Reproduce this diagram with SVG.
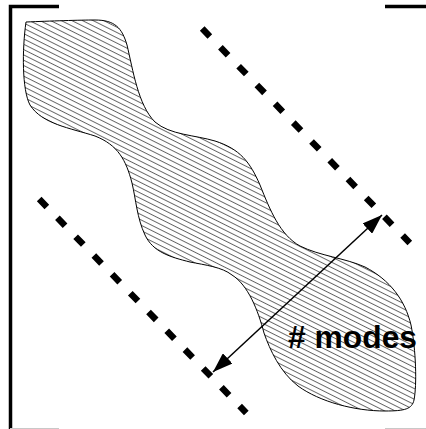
<svg xmlns="http://www.w3.org/2000/svg" width="426" height="429" viewBox="0 0 426 429">
  <style>
    .frame { stroke: #000; stroke-width: 3.5; fill: none; }
    .frameb { stroke: #c8c8c8; stroke-width: 1; fill: none; }
    .dash { stroke: #000; stroke-width: 6.5; stroke-dasharray: 11 15.2; fill: none; }
    .outline { stroke: #000; stroke-width: 1; fill: url(#hatch); }
    .arrow { stroke: #000; stroke-width: 1.5; fill: none; }
    .label { font-family: "Liberation Sans", Arial, sans-serif; font-weight: bold; font-size: 31px; fill: #000; }
  </style>
  <defs>
    <pattern id="hatch" width="10" height="4.75" patternUnits="userSpaceOnUse" patternTransform="rotate(26.6)">
      <line x1="0" y1="0.5" x2="10" y2="0.5" stroke="#555" stroke-width="0.9"/>
    </pattern>
    <marker id="ah" markerWidth="22" markerHeight="14" refX="20" refY="7" orient="auto-start-reverse" markerUnits="userSpaceOnUse">
      <path d="M0,0 L20,7 L0,14 Z" fill="#000"/>
    </marker>
  </defs>
  <rect width="426" height="429" fill="#fff"/>
  <g id="frame">
    <path class="frame" d="M59,6.5 H10.5 V429"/>
    <path class="frame" d="M385,6.5 H426"/>
    <path class="frameb" d="M10,428.5 H59 M385,428.5 H426"/>
  </g>
  <g id="region">
    <path class="outline" d="M26,22 C50,21 80,20 95,20 C115,20 122,28 127,45 C133,70 138,105 155,122 C170,135 195,135 215,141 C240,149 250,162 260,185 C270,210 280,235 300,246 C320,256 345,258 365,267 C390,280 405,300 411,325 C416,350 417,385 414,400 C412,409 405,411 385,411 C355,411 320,402 298,386 C280,372 270,350 264,333 C258,310 248,285 232,275 C222,267 205,265 190,262 C170,257 153,252 145,235 C137,218 136,200 132,183 C126,160 118,145 95,136 C70,128 42,124 30,105 C22,90 22,50 26,22 Z"/>
  </g>
  <g id="bound-upper">
    <path class="dash" d="M202.2,28.5 L409.8,243"/>
  </g>
  <g id="bound-lower">
    <path class="dash" d="M39.2,199 L246.3,413"/>
  </g>
  <g id="connectors">
    <path class="arrow" d="M213,372 L382,215" marker-start="url(#ah)" marker-end="url(#ah)"/>
  </g>
  <g id="label">
    <text class="label" x="288" y="348" textLength="129" lengthAdjust="spacingAndGlyphs"># modes</text>
  </g>
</svg>
